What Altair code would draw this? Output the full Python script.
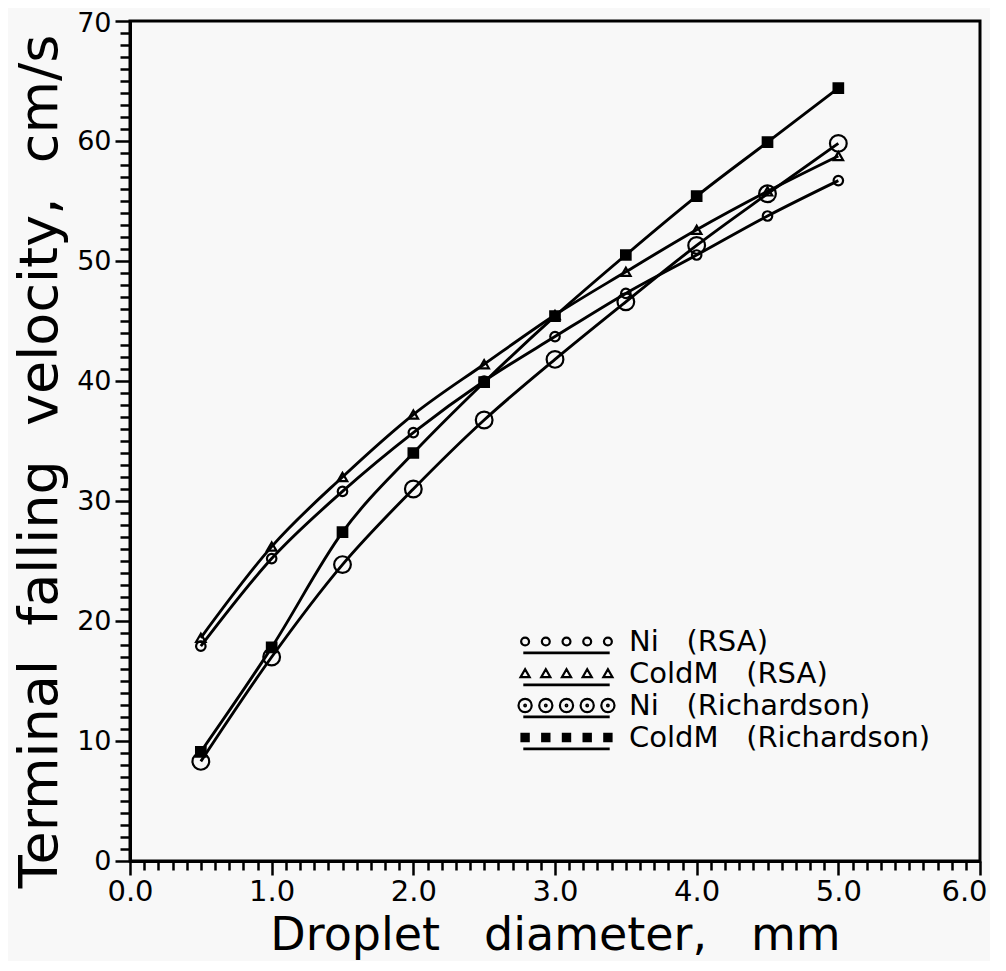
import altair as alt
import pandas as pd

# ---- data ----
diam = [0.5, 1.0, 1.5, 2.0, 2.5, 3.0, 3.5, 4.0, 4.5, 5.0]
ni_rsa = [17.9, 25.2, 30.8, 35.7, 40.0, 43.7, 47.3, 50.5, 53.75, 56.7]
coldm_rsa = [18.6, 26.2, 32.0, 37.2, 41.4, 45.5, 49.1, 52.6, 55.8, 58.75]
ni_rich = [8.3, 17.0, 24.7, 31.0, 36.75, 41.8, 46.6, 51.3, 55.6, 59.8]
coldm_rich = [9.1, 17.8, 27.4, 34.0, 39.9, 45.4, 50.5, 55.4, 59.9, 64.4]

NB = "\u00a0"
series_names = [f"Ni{NB}{NB} (RSA)", f"ColdM{NB}{NB} (RSA)", f"Ni{NB}{NB} (Richardson)", f"ColdM{NB}{NB} (Richardson)"]
x_ticks = [round(i * 0.1, 1) for i in range(61)]
y_ticks = list(range(71))

rows = []
for name, vals in zip(series_names, [ni_rsa, coldm_rsa, ni_rich, coldm_rich]):
    for d, v in zip(diam, vals):
        rows.append({"d": d, "v": v, "series": name, "leg": name})
df = pd.DataFrame(rows)

FONT = "DejaVu Sans"


# ---- legend glyphs (5 markers over an underline), stroke-only paths ----
def circ(cx, cy, r):
    return f"M{cx + r},{cy}A{r},{r} 0 1 0 {cx - r},{cy}A{r},{r} 0 1 0 {cx + r},{cy}Z"


def sq(cx, r):
    return f"M{cx - r},{-r}L{cx + r},{-r}L{cx + r},{r}L{cx - r},{r}Z"


xs = [-3.45, -1.725, 0, 1.725, 3.45]
uline = "M-3.6,0.92L3.6,0.92M-3.6,0.98L3.6,0.98"
p_small = "".join(circ(x, 0, 0.33) for x in xs) + uline
p_tri = "".join(f"M{x - 0.38},0.3L{x + 0.38},0.3L{x},-0.36Z" for x in xs) + uline
p_big = "".join(circ(x, 0, 0.55) + circ(x, 0, 0.07) for x in xs) + uline
p_sq = "".join(sq(x, 0.3) + sq(x, 0.16) + sq(x, 0.04) for x in xs) + uline

cond_x = "abs(datum.value - round(datum.value)) < 0.001"
cond_y = "abs(datum.value / 10 - round(datum.value / 10)) < 0.001"

x_enc = alt.X(
    "d:Q",
    scale=alt.Scale(domain=[0, 6], nice=False, zero=False),
    axis=alt.Axis(
        values=x_ticks,
        title=f"Droplet{NB}{NB}{NB}diameter,{NB}{NB}{NB}mm",
        labelExpr=f"{cond_x} ? format(datum.value, '.1f') : ''",
        tickSize={"condition": {"test": cond_x, "value": 14}, "value": 9},
        labelOffset={"condition": {"test": "datum.value > 5.95", "value": -16}, "value": 0},
        labelOverlap=False,
        labelFlush=False,
        labelPadding=2,
        titleX=425,
        titleY=74,
        titleBaseline="middle",
        titleAlign="center",
        titleFontSize=46,
        labelFontSize=29,
        grid=False,
    ),
)
y_enc = alt.Y(
    "v:Q",
    scale=alt.Scale(domain=[0, 70], nice=False),
    axis=alt.Axis(
        values=y_ticks,
        title=f"Terminal{NB}{NB}falling{NB}{NB}velocity,{NB}{NB}cm/s",
        labelExpr=f"{cond_y} ? format(datum.value, 'd') : ''",
        tickSize={"condition": {"test": cond_y, "value": 15}, "value": 10},
        labelOffset={"condition": {"test": "datum.value > 69", "value": 2}, "value": 0},
        labelOverlap=False,
        labelFlush=False,
        labelPadding=4,
        titleX=-90,
        titleY=440,
        titleBaseline="middle",
        titleAlign="center",
        titleAngle=-90,
        titleFontSize=54,
        labelFontSize=27,
        grid=False,
    ),
)

lines = alt.Chart(df).mark_line(color="black", strokeWidth=2.9, interpolate="monotone").encode(
    x=x_enc, y=y_enc, detail="series:N"
)

points = alt.Chart(df).mark_point(color="black", strokeWidth=2.2, opacity=1).encode(
    x=x_enc,
    y=y_enc,
    shape=alt.Shape("series:N", scale=alt.Scale(domain=series_names,
                    range=["circle", "triangle-up", "circle", "square"]), legend=None),
    size=alt.condition(alt.datum.series == series_names[2], alt.value(280), alt.value(90)),
    fill=alt.Fill("series:N", scale=alt.Scale(domain=series_names,
                  range=["transparent", "transparent", "transparent", "black"]), legend=None),
)

legend_layer = alt.Chart(df).mark_point(filled=False, color="black", strokeWidth=2, size=576, opacity=1).encode(
    x=x_enc,
    y=y_enc,
    shape=alt.Shape(
        "leg:N",
        scale=alt.Scale(domain=series_names, range=[p_small, p_tri, p_big, p_sq]),
        legend=alt.Legend(
            orient="none", legendX=422, legendY=606, title=None, labelFont=FONT, labelFontSize=29,
            labelColor="black", labelOffset=48, labelLimit=600, rowPadding=1, padding=0,
            symbolStrokeWidth=2.2, symbolStrokeColor="black", symbolFillColor="transparent",
            symbolSize=576, symbolOpacity=1,
        ),
    ),
).transform_filter("datum.d < 0")

chart = (
    alt.layer(lines, points, legend_layer)
    .resolve_scale(shape="independent", fill="independent")
    .properties(
        width=850,
        height=840,
        autosize=alt.AutoSizeParams(type="none"),
        padding={"left": 122, "top": 13, "right": 10, "bottom": 100},
        background="#f8f8f8",
    )
    .configure_view(stroke="black", strokeWidth=3)
    .configure_axis(
        labelFont=FONT, titleFont=FONT, labelColor="black", titleColor="black",
        titleFontWeight="normal", domainColor="black", domainWidth=3,
        tickColor="black", tickWidth=2.5,
    )
)

chart.save("out.html", embed_options={"renderer": "svg", "actions": False})
